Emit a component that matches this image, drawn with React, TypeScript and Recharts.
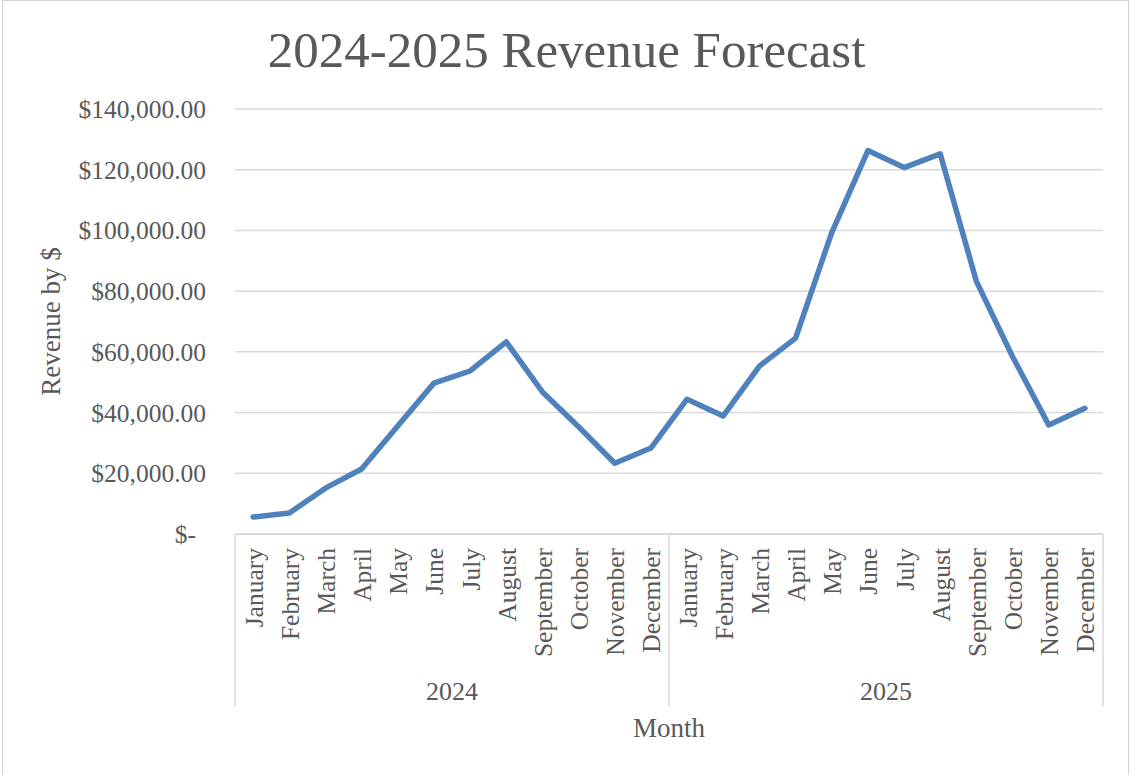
import React from 'react';
import { LineChart, Line, XAxis, YAxis, CartesianGrid, Label } from 'recharts';

const months = [
  'January', 'February', 'March', 'April', 'May', 'June',
  'July', 'August', 'September', 'October', 'November', 'December',
];
const years = ['2024', '2025'];
const revenue2024 = [5600, 6900, 15100, 21400, 35600, 49700, 53700, 63300, 46800, 35300, 23300, 28300];
const revenue2025 = [44400, 38900, 55300, 64500, 99300, 126300, 120700, 125200, 83200, 58400, 35900, 41400];
const yTicks = [0, 20000, 40000, 60000, 80000, 100000, 120000, 140000];

const seriesByYear = [revenue2024, revenue2025];
const data = years.flatMap((yr, yi) =>
  months.map((m, mi) => ({ key: `${yr}|${m}`, month: m, year: yr, revenue: seriesByYear[yi][mi] }))
);

const FONT = "'Liberation Serif', 'Times New Roman', serif";
const TEXT = '#595959';
const GRID = '#D9D9D9';

const fmtMoney = (v: number) =>
  v === 0 ? '$-' : '$' + v.toLocaleString('en-US', { minimumFractionDigits: 2, maximumFractionDigits: 2 });

const YTick = (props: any) => {
  const { x, y, payload } = props;
  const v = payload.value as number;
  return (
    <text
      x={x}
      y={y}
      dx={v === 0 ? -39 : -29}
      dy="0.355em"
      textAnchor="end"
      fill={TEXT}
      fontFamily={FONT}
      fontSize={25.5}
    >
      {fmtMoney(v)}
    </text>
  );
};

const MonthTick = (props: any) => {
  const { x, y, payload } = props;
  const half = payload.offset || 0;
  const tx = x + 9.5;
  const ty = y + 14;
  const key = String(payload.value);
  const idx = data.findIndex((d) => d.key === key);
  const label = idx >= 0 ? data[idx].month : key;
  return (
    <g>
      <text
        x={tx}
        y={ty}
        textAnchor="end"
        transform={`rotate(-90, ${tx}, ${ty})`}
        fill={TEXT}
        fontFamily={FONT}
        fontSize={25.5}
      >
        {label}
      </text>
      {idx === 0 && (
        <line x1={x - half} x2={x - half} y1={y} y2={y + 173} stroke={GRID} strokeWidth={1.5} />
      )}
      {idx % 12 === 11 && (
        <line x1={x + half} x2={x + half} y1={y} y2={y + 173} stroke={GRID} strokeWidth={1.5} />
      )}
    </g>
  );
};

const YearTick = (props: any) => {
  const { x, y, payload } = props;
  return (
    <text x={x} y={y} dy={36} textAnchor="middle" fill={TEXT} fontFamily={FONT} fontSize={26}>
      {payload.value}
    </text>
  );
};

export default function App() {
  return (
    <div style={{ position: 'absolute', left: 0, top: 0, width: 1133, height: 775, background: '#fff', overflow: 'hidden' }}>
      <div
        style={{
          position: 'absolute',
          left: 2,
          top: 0,
          width: 1127,
          height: 776,
          border: '1px solid #D4D4D4',
          boxSizing: 'border-box',
        }}
      />
      <div
        style={{
          position: 'absolute',
          left: 0,
          top: 25,
          width: 1133,
          textAlign: 'center',
          fontFamily: FONT,
          fontSize: 51,
          lineHeight: 1,
          color: TEXT,
        }}
      >
        2024-2025 Revenue Forecast
      </div>
      <div style={{ position: 'absolute', left: 0, top: 0 }}>
        <LineChart width={1133} height={775} data={data} margin={{ top: 109, right: 30, bottom: 66, left: 0 }}>
          <CartesianGrid vertical={false} stroke={GRID} strokeWidth={1.5} />
          <XAxis
            dataKey="key"
            scale="band"
            interval={0}
            height={130}
            tickSize={0}
            tickMargin={0}
            tickLine={false}
            axisLine={{ stroke: GRID, strokeWidth: 1.5 }}
            tick={<MonthTick />}
          />
          <XAxis
            xAxisId="year"
            dataKey="year"
            scale="band"
            allowDuplicatedCategory={false}
            ticks={years}
            interval={0}
            height={45}
            tickSize={0}
            tickMargin={0}
            tickLine={false}
            axisLine={false}
            tick={<YearTick />}
          >
            <Label value="Month" position="bottom" offset={9} fill={TEXT} fontFamily={FONT} fontSize={27} />
          </XAxis>
          <YAxis
            width={235}
            domain={[0, 140000]}
            ticks={yTicks}
            interval={0}
            tickSize={0}
            tickMargin={0}
            tickLine={false}
            axisLine={false}
            tick={<YTick />}
          >
            <Label
              value="Revenue by $"
              angle={-90}
              position="insideLeft"
              offset={50}
              style={{ textAnchor: 'middle' }}
              fill={TEXT}
              fontFamily={FONT}
              fontSize={27}
            />
          </YAxis>
          <Line
            type="linear"
            dataKey="revenue"
            stroke="#4F81BD"
            strokeWidth={5.5}
            strokeLinejoin="round"
            strokeLinecap="round"
            dot={false}
            activeDot={false}
            isAnimationActive={false}
          />
        </LineChart>
      </div>
    </div>
  );
}
